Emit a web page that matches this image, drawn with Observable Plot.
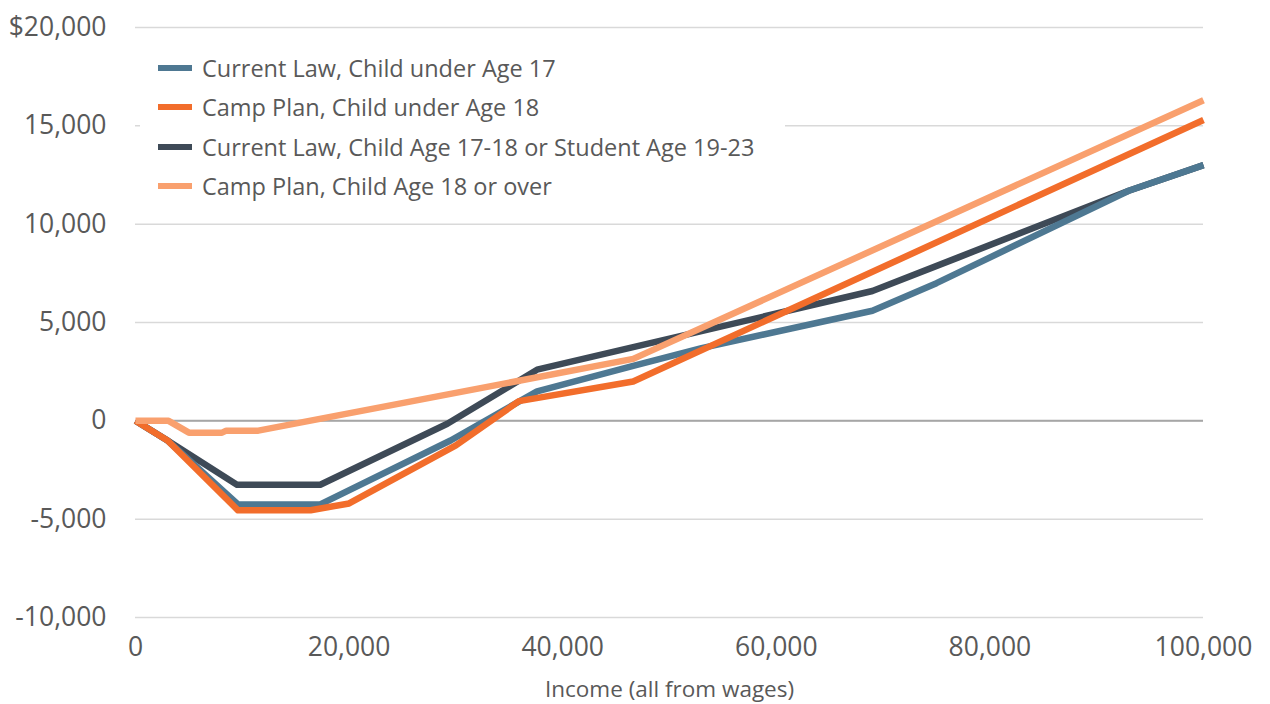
<!DOCTYPE html>
<html>
<head>
<meta charset="utf-8">
<script src="https://cdn.jsdelivr.net/npm/d3@7"></script>
<script src="https://cdn.jsdelivr.net/npm/@observablehq/plot@0.6"></script>
<style>
  html, body { margin: 0; padding: 0; background: #fff; }
  #wrap { position: relative; width: 1270px; height: 704px; overflow: hidden;
          font-family: "Open Sans", sans-serif; color: #595959; }
  #legend { position: absolute; left: 140px; top: 46px; width: 645px; height: 158px; background: #fff; }
  .item { position: absolute; left: 18px; height: 30px; display: flex; align-items: center; font-size: 23.5px; white-space: nowrap; }
  .sw { width: 34px; height: 6px; margin-right: 10px; }
</style>
</head>
<body>
<div id="wrap"></div>
<script>
// Income points (x) and net tax values (y) for each series
const currentUnder17X = [0, 3000, 9600, 17300, 29500, 37600, 46600, 53000, 69000, 75000, 93000, 100000];
const currentUnder17Y = [0, -1000, -4250, -4250, -1000, 1500, 2800, 3700, 5600, 7000, 11700, 13000];

const campUnder18X = [0, 3000, 9600, 16400, 20000, 30000, 35900, 46600, 100000];
const campUnder18Y = [0, -1000, -4550, -4550, -4200, -1250, 1000, 2000, 15300];

const currentOlderX = [0, 3000, 9500, 17300, 29200, 37600, 49000, 69000, 77000, 93000, 100000];
const currentOlderY = [0, -1000, -3250, -3250, -150, 2600, 4050, 6600, 8300, 11700, 13000];

const campOlderX = [0, 3100, 5000, 8100, 8500, 11500, 46600, 100000];
const campOlderY = [0, 0, -600, -600, -500, -500, 3150, 16300];

const seriesNames = [
  "Current Law, Child under Age 17",
  "Camp Plan, Child under Age 18",
  "Current Law, Child Age 17-18 or Student Age 19-23",
  "Camp Plan, Child Age 18 or over"
];
const seriesColors = ["#4e7892", "#f26d2b", "#3e4a57", "#f9a06e"];

const yTicks = [-10000, -5000, 0, 5000, 10000, 15000, 20000];
const xTicks = [0, 20000, 40000, 60000, 80000, 100000];

const build = (name, xs, ys) => xs.map((x, i) => ({series: name, income: x, value: ys[i]}));
const rows = [
  ...build(seriesNames[2], currentOlderX, currentOlderY),
  ...build(seriesNames[0], currentUnder17X, currentUnder17Y),
  ...build(seriesNames[1], campUnder18X, campUnder18Y),
  ...build(seriesNames[3], campOlderX, campOlderY)
];

const fmt = d => d.toLocaleString("en-US");

const chart = Plot.plot({
  width: 1270,
  height: 704,
  marginLeft: 135,
  marginRight: 67,
  marginTop: 27,
  marginBottom: 87,
  style: {fontFamily: '"Open Sans", sans-serif', fontSize: "26.5px", color: "#595959", background: "#fff"},
  x: {domain: [0, 100000]},
  y: {domain: [-10000, 20000]},
  color: {domain: seriesNames, range: seriesColors},
  marks: [
    Plot.gridY(yTicks, {stroke: "#d9d9d9", strokeOpacity: 1, strokeWidth: 1.5}),
    Plot.ruleY([0], {stroke: "#a6a6a6", strokeWidth: 2}),
    Plot.axisY(yTicks, {tickSize: 0, tickPadding: 29, label: null,
      tickFormat: d => (d === 20000 ? "$" : "") + fmt(d)}),
    Plot.axisX(xTicks, {tickSize: 0, tickPadding: 20, tickFormat: fmt,
      label: "Income (all from wages)", labelAnchor: "center", labelOffset: 79, labelArrow: false}),
    Plot.line(rows, {x: "income", y: "value", z: "series", stroke: "series", strokeWidth: 6.5, strokeLinejoin: "round", strokeLinecap: "butt"})
  ]
});

const wrap = document.getElementById("wrap");
wrap.appendChild(chart);
// axis title is set a little smaller than the tick labels
chart.querySelectorAll("text").forEach(t => {
  if (t.textContent === "Income (all from wages)") t.style.fontSize = "22.5px";
});

const legend = document.createElement("div");
legend.id = "legend";
seriesNames.forEach((name, i) => {
  const item = document.createElement("div");
  item.className = "item";
  item.style.top = (7 + i * 39.3) + "px";
  const sw = document.createElement("span");
  sw.className = "sw";
  sw.style.background = seriesColors[i];
  const label = document.createElement("span");
  label.textContent = name;
  item.appendChild(sw);
  item.appendChild(label);
  legend.appendChild(item);
});
wrap.appendChild(legend);
</script>
</body>
</html>
